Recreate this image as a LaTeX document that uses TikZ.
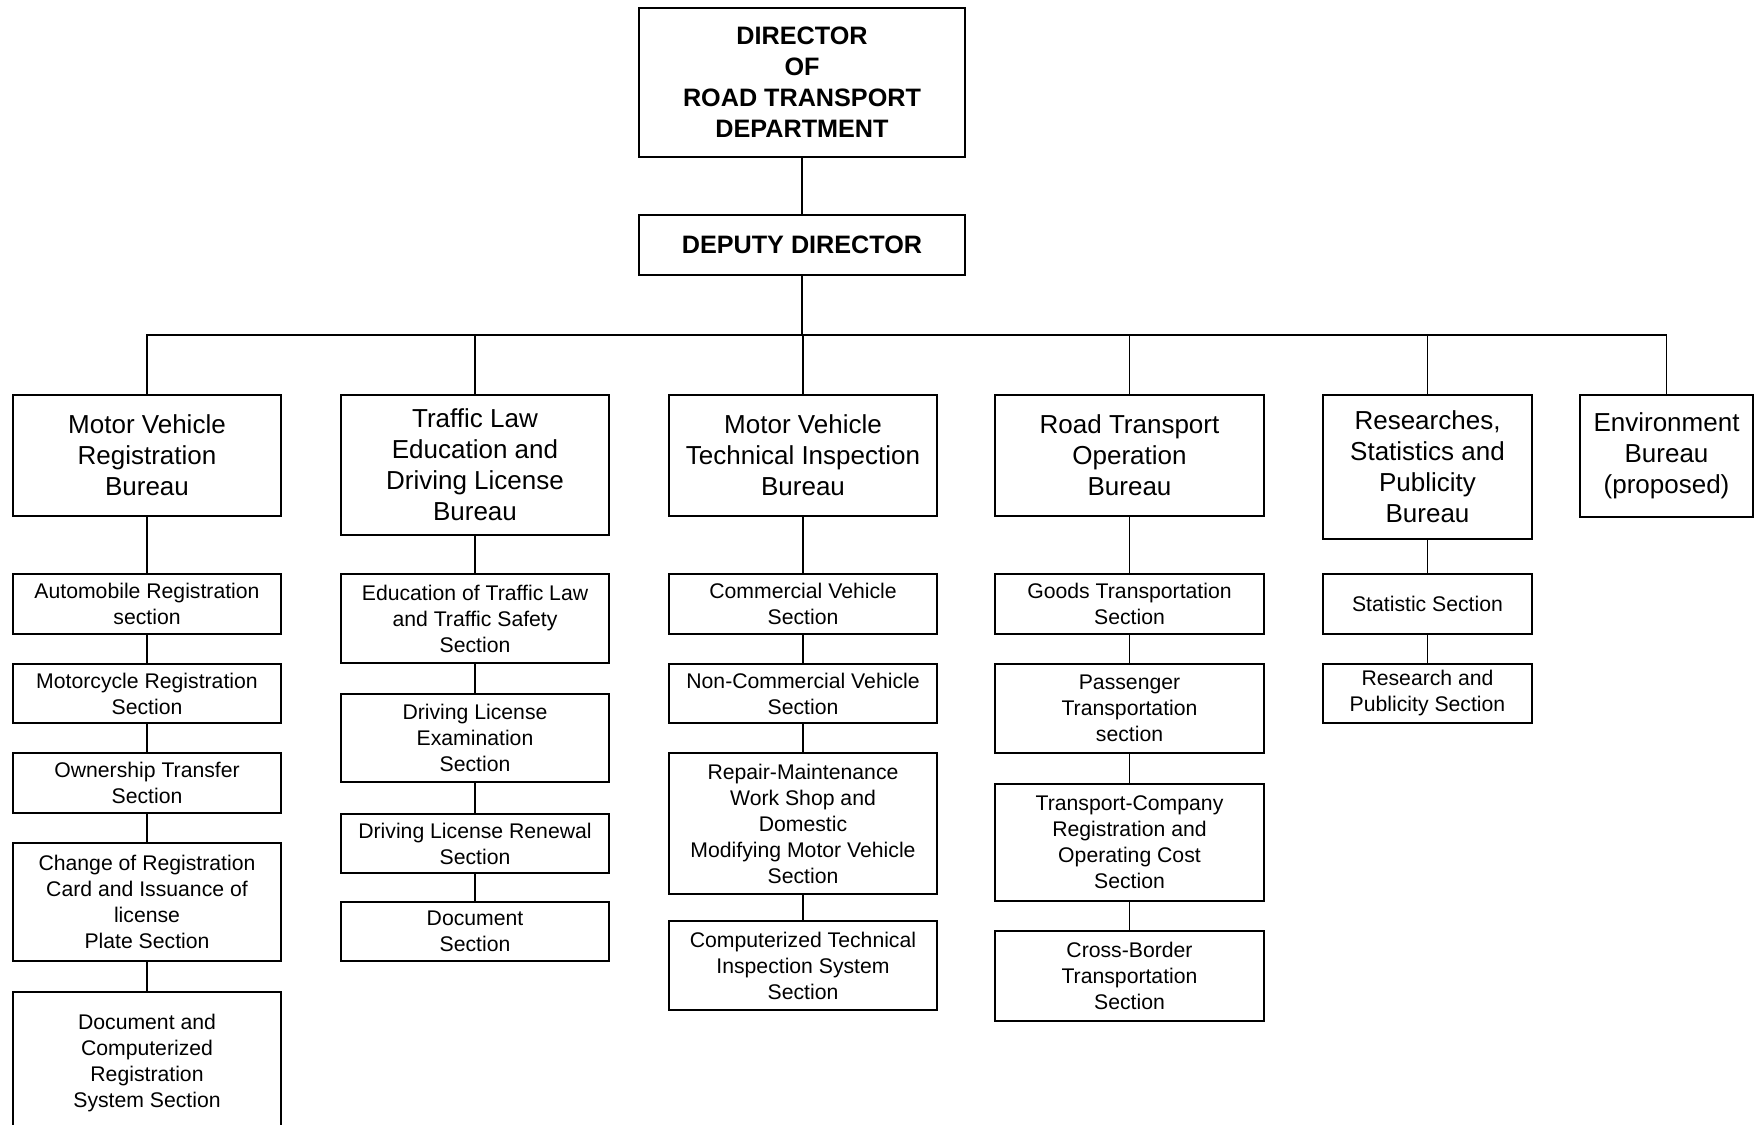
\documentclass[tikz,border=0pt]{standalone}
\usepackage{fontspec}
\setmainfont{Liberation Sans}
\newcommand\orgbox[7]{%
  \node[#7, minimum width={(#4-#2)*0.5pt}, minimum height={(#5-#3)*0.5pt}]
    (#1) at ({(#2+#4)/2},{(#3+#5)/2}) {#6};}
\tikzset{
  base/.style={draw, line width=0.8pt, rectangle, inner sep=0pt, align=center, text=black},
  topbox/.style={base, font=\fontsize{12.6}{15.5}\selectfont\bfseries},
  bureau/.style={base, font=\fontsize{13}{15.5}\selectfont},
  secbox/.style={base, font=\fontsize{10.6}{13}\selectfont},
  link/.style={line width=0.8pt}
}
\begin{document}
\begin{tikzpicture}[x=0.5pt,y=-0.5pt]
\useasboundingbox[fill=white] (0,0) rectangle (1755,1124);
% top
\orgbox{dir}{639}{8}{965}{157}{DIRECTOR\\OF\\ROAD TRANSPORT\\DEPARTMENT}{topbox}
\orgbox{dep}{639}{215}{965}{275}{DEPUTY DIRECTOR}{topbox}
% bureaus
\orgbox{mvr}{13}{395}{281}{516}{Motor Vehicle\\Registration\\Bureau}{bureau}
\orgbox{tld}{341}{395}{609}{535}{Traffic Law\\Education and\\Driving License\\Bureau}{bureau}
\orgbox{mvt}{669}{395}{937}{516}{Motor Vehicle\\Technical Inspection\\Bureau}{bureau}
\orgbox{rto}{995}{395}{1264}{516}{Road Transport\\Operation\\Bureau}{bureau}
\orgbox{rsp}{1323}{395}{1532}{539}{Researches,\\Statistics and\\Publicity\\Bureau}{bureau}
\orgbox{env}{1580}{395}{1753}{517}{Environment\\Bureau\\(proposed)}{bureau}
% column 1
\orgbox{a1}{13}{574}{281}{634}{Automobile Registration\\section}{secbox}
\orgbox{a2}{13}{664}{281}{723}{Motorcycle Registration\\Section}{secbox}
\orgbox{a3}{13}{753}{281}{813}{Ownership Transfer\\Section}{secbox}
\orgbox{a4}{13}{843}{281}{961}{Change of Registration\\Card and Issuance of\\license\\Plate Section}{secbox}
\orgbox{a5}{13}{992}{281}{1134}{Document and\\Computerized\\Registration\\System Section}{secbox}
% column 2
\orgbox{b1}{341}{574}{609}{663}{Education of Traffic Law\\and Traffic Safety\\Section}{secbox}
\orgbox{b2}{341}{694}{609}{782}{Driving License\\Examination\\Section}{secbox}
\orgbox{b3}{341}{814}{609}{873}{Driving License Renewal\\Section}{secbox}
\orgbox{b4}{341}{902}{609}{961}{Document\\Section}{secbox}
% column 3
\orgbox{c1}{669}{574}{937}{634}{Commercial Vehicle\\Section}{secbox}
\orgbox{c2}{669}{664}{937}{723}{Non-Commercial Vehicle\\Section}{secbox}
\orgbox{c3}{669}{753}{937}{894}{Repair-Maintenance\\Work Shop and\\Domestic\\Modifying Motor Vehicle\\Section}{secbox}
\orgbox{c4}{669}{921}{937}{1010}{Computerized Technical\\Inspection System\\Section}{secbox}
% column 4
\orgbox{d1}{995}{574}{1264}{634}{Goods Transportation\\Section}{secbox}
\orgbox{d2}{995}{664}{1264}{753}{Passenger\\Transportation\\section}{secbox}
\orgbox{d3}{995}{784}{1264}{901}{Transport-Company\\Registration and\\Operating Cost\\Section}{secbox}
\orgbox{d4}{995}{931}{1264}{1021}{Cross-Border\\Transportation\\Section}{secbox}
% column 5
\orgbox{e1}{1323}{574}{1532}{634}{Statistic Section}{secbox}
\orgbox{e2}{1323}{664}{1532}{723}{Research and\\Publicity Section}{secbox}
% connectors
\coordinate (bus) at (805,335);
\draw[link] (dir.south) -- (dep.north);
\draw[link] (dep.south) -- (dep.south |- bus);
\draw[link] (mvr.north) -- (mvr.north |- bus) -- (env.north |- bus) -- (env.north);
\foreach \b in {tld,mvt,rto,rsp} \draw[link] (\b.north) -- (\b.north |- bus);
\draw[link] (mvr) -- (a1) (a1) -- (a2) (a2) -- (a3) (a3) -- (a4) (a4) -- (a5);
\draw[link] (tld) -- (b1) (b1) -- (b2) (b2) -- (b3) (b3) -- (b4);
\draw[link] (mvt) -- (c1) (c1) -- (c2) (c2) -- (c3) (c3) -- (c4);
\draw[link] (rto) -- (d1) (d1) -- (d2) (d2) -- (d3) (d3) -- (d4);
\draw[link] (rsp) -- (e1) (e1) -- (e2);
\end{tikzpicture}
\end{document}
